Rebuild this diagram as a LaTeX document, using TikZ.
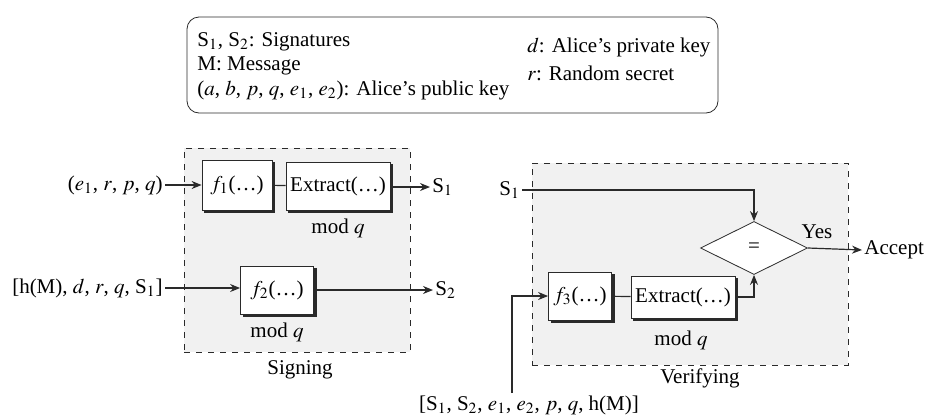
\documentclass[tikz,border=0pt]{standalone}
\usepackage{mathptmx}
\usepackage{fontspec}
\setmainfont{Liberation Serif}
\usepackage{tikz}
\usetikzlibrary{arrows.meta,shapes.geometric}
\definecolor{stagegray}{HTML}{F1F1F1}
\definecolor{inkgray}{HTML}{2A2A2A}

\begin{document}
\begin{tikzpicture}[>={Stealth[length=5pt,width=4pt]},x=0.5pt,y=-0.5pt,
  font=\fontsize{10.5}{12}\selectfont,
  fbox/.style={draw=inkgray,fill=white,inner sep=1pt},
  boxshade/.style={draw=inkgray,line width=1.3pt},
  stagebox/.style={draw=inkgray,dashed,fill=stagegray},
  eqtest/.style={diamond,draw=inkgray,fill=white,inner sep=0pt},
  link/.style={draw=inkgray,line width=0.6pt},
  lbl/.style={inner sep=1pt}]
  \useasboundingbox (0,0) rectangle (931,418);
  \node[draw=inkgray,rounded corners=6pt,minimum width=265.5pt,minimum height=48pt] (legend) at (452.5,65) {};
  \node[lbl,anchor=west] (lg1) at (195,42) {S$_1$, S$_2$: Signatures};
  \node[lbl,anchor=west] (lg2) at (195,66) {M: Message};
  \node[lbl,anchor=west] (lg3) at (195,90) {($a$, $b$, $p$, $q$, $e_1$, $e_2$): Alice's public key};
  \node[lbl,anchor=west] (lg4) at (525,47) {$d$: Alice's private key};
  \node[lbl,anchor=west] (lg5) at (525,73) {$r$: Random secret};

  \node[stagebox,minimum width=113pt,minimum height=102pt] (sign) at (297,250) {};
  \node[lbl] (signlbl) at (300,370) {Signing};
  \node[fbox,minimum width=35pt,minimum height=25pt] (f1) at (237,185) {$f_1$(\ldots)};
  \node[fbox,minimum width=52pt,minimum height=24pt] (ex1) at (338,186) {Extract(\ldots)};
  \node[lbl] (mod1) at (338,228) {mod $q$};
  \node[lbl,anchor=east] (in1) at (165,185) {($e_1$, $r$, $p$, $q$)};
  \node[lbl,anchor=west] (out1) at (430,187) {S$_1$};
  \draw[link,->] (in1.east) -- (in1.east -| f1.west);
  \draw[link] (f1) -- (ex1);
  \draw[link,->] (ex1.east |- out1) -- (out1.west);
  \node[fbox,minimum width=36.5pt,minimum height=24pt] (f2) at (277,290) {$f_2$(\ldots)};
  \node[lbl] (mod2) at (277,332) {mod $q$};
  \node[lbl,anchor=east] (in2) at (165,288) {[h(M), $d$, $r$, $q$, S$_1$]};
  \node[lbl,anchor=west] (out2) at (433,290) {S$_2$};
  \draw[link,->] (in2.east) -- (in2.east -| f2.west);
  \draw[link,->] (f2.east |- out2) -- (out2.west);

  \node[stagebox,minimum width=158pt,minimum height=101pt] (verify) at (690,264) {};
  \node[lbl] (verifylbl) at (700,378) {Verifying};
  \node[lbl,anchor=west] (s1v) at (497,190) {S$_1$};
  \node[eqtest,minimum width=53.5pt,minimum height=26.5pt] (eq) at (754,248) {=};
  \node[lbl] (yes) at (817,232) {Yes};
  \node[lbl,anchor=west] (accept) at (862,250) {Accept};
  \node[fbox,minimum width=31.5pt,minimum height=24pt] (f3) at (580,296) {$f_3$(\ldots)};
  \node[fbox,minimum width=52pt,minimum height=21pt] (ex3) at (683,297) {Extract(\ldots)};
  \node[lbl] (mod3) at (681,340) {mod $q$};
  \node[lbl] (vin) at (529,405) {[S$_1$, S$_2$, $e_1$, $e_2$, $p$, $q$, h(M)]};
  \coordinate (vturn) at (512,296);
  \foreach \b in {f1,ex1,f2,f3,ex3}
    \draw[boxshade] ([xshift=1.4pt,yshift=-0.65pt]\b.south west) -- ([xshift=0.65pt,yshift=-0.65pt]\b.south east)
      -- ([xshift=0.65pt,yshift=-1.4pt]\b.north east);
  \draw[link,->] (s1v.east) -| (eq.north);
  \draw[link,->] (eq.east) -- (accept.west);
  \draw[link] (f3) -- (ex3);
  \draw[link,->] (ex3.east) -| (eq.south);
  \draw[link,->] (vin.north -| vturn) |- (f3.west);
\end{tikzpicture}
\end{document}
